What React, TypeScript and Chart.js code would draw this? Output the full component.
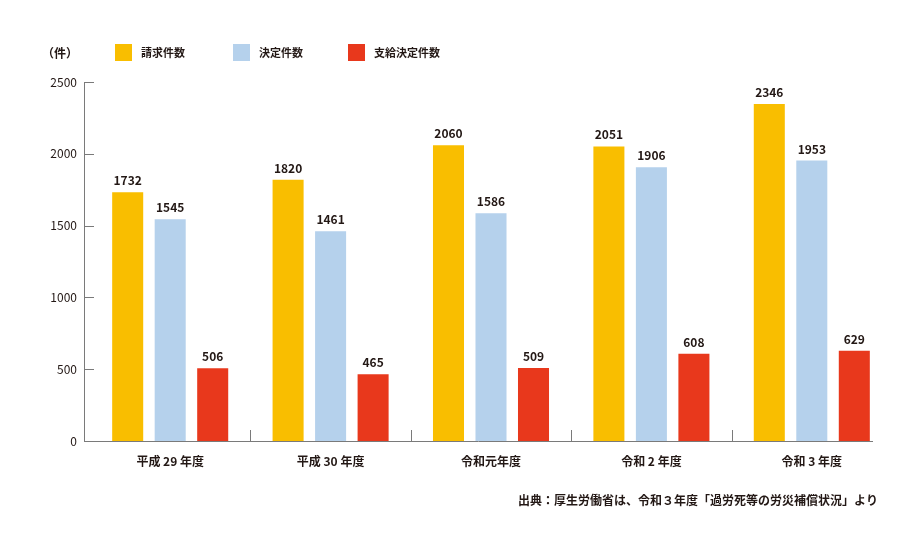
import React, { useEffect, useRef } from 'react';
import { Chart, registerables } from 'chart.js';

Chart.register(...registerables);

// data
const categories = ['平成 29 年度', '平成 30 年度', '令和元年度', '令和 2 年度', '令和 3 年度'];
const seriesNames = ['請求件数', '決定件数', '支給決定件数'];
const seriesColors = ['#F9BE00', '#B5D1EC', '#E8381C'];
const claims = [1732, 1820, 2060, 2051, 2346];
const decisions = [1545, 1461, 1586, 1906, 1953];
const approvals = [506, 465, 509, 608, 629];
const yTicks = [0, 500, 1000, 1500, 2000, 2500];
const unitLabel = '（件）';
const sourceNote = '出典：厚生労働省は、令和３年度「過労死等の労災補償状況」より';

const FONT = '"Noto Sans CJK JP", "Noto Sans", sans-serif';
const TEXT = '#231815';
const AXIS = '#7a7a7a';

const decorPlugin = {
  id: 'decor',
  afterDatasetsDraw(chart: any) {
    const { ctx, chartArea, scales } = chart;
    const x = scales.x;
    const y = scales.y;
    const axisX = chartArea.left - 6;
    const base = y.getPixelForValue(0);

    ctx.save();
    ctx.strokeStyle = AXIS;
    ctx.lineWidth = 1;
    ctx.beginPath();
    // y axis + inner ticks
    ctx.moveTo(axisX + 0.5, y.getPixelForValue(yTicks[yTicks.length - 1]));
    ctx.lineTo(axisX + 0.5, base);
    yTicks.forEach((v) => {
      const py = Math.round(y.getPixelForValue(v)) + 0.5;
      ctx.moveTo(axisX, py);
      ctx.lineTo(axisX + 10, py);
    });
    // x axis
    ctx.moveTo(axisX, Math.round(base) + 0.5);
    ctx.lineTo(chartArea.right - 19, Math.round(base) + 0.5);
    // category dividers
    for (let i = 0; i < categories.length - 1; i++) {
      const px = Math.round((x.getPixelForValue(i) + x.getPixelForValue(i + 1)) / 2) + 0.5;
      ctx.moveTo(px, base - 11);
      ctx.lineTo(px, base);
    }
    ctx.stroke();

    // value labels
    ctx.fillStyle = TEXT;
    ctx.font = `bold 12px ${FONT}`;
    ctx.textAlign = 'center';
    ctx.textBaseline = 'alphabetic';
    chart.data.datasets.forEach((ds: any, di: number) => {
      const meta = chart.getDatasetMeta(di);
      meta.data.forEach((el: any, i: number) => {
        ctx.fillText(String(ds.data[i]), el.x, el.y - 7);
      });
    });
    ctx.restore();
  },
  afterDraw(chart: any) {
    const { ctx } = chart;
    ctx.save();
    ctx.fillStyle = TEXT;
    ctx.textBaseline = 'middle';
    ctx.textAlign = 'left';
    ctx.font = `bold 12px ${FONT}`;
    ctx.fillText(unitLabel, 42, 53);

    ctx.font = `bold 11px ${FONT}`;
    const boxX = [115, 233, 348];
    chart.data.datasets.forEach((ds: any, i: number) => {
      ctx.fillStyle = ds.backgroundColor;
      ctx.fillRect(boxX[i], 44, 17, 17);
      ctx.fillStyle = TEXT;
      ctx.fillText(ds.label, boxX[i] + 26, 53);
    });

    ctx.textAlign = 'right';
    ctx.font = `bold 12px ${FONT}`;
    ctx.fillText(sourceNote, 878, 500);
    ctx.restore();
  },
};

export default function App() {
  const canvasRef = useRef<HTMLCanvasElement>(null);
  const chartRef = useRef<Chart | null>(null);

  useEffect(() => {
    if (!canvasRef.current) return;
    if (chartRef.current) chartRef.current.destroy();
    const ctx = canvasRef.current.getContext('2d');
    if (!ctx) return;

    const values = [claims, decisions, approvals];
    chartRef.current = new Chart(ctx, {
      type: 'bar',
      data: {
        labels: categories,
        datasets: values.map((d, i) => ({
          label: seriesNames[i],
          data: d,
          backgroundColor: seriesColors[i],
          borderWidth: 0,
          categoryPercentage: 0.795,
          barPercentage: 0.73,
        })),
      },
      options: {
        responsive: false,
        maintainAspectRatio: false,
        animation: false,
        layout: { padding: { left: 8, right: 28, top: 82, bottom: 0 } },
        plugins: {
          legend: { display: false },
          tooltip: { enabled: false },
        },
        scales: {
          x: {
            grid: { display: false, drawTicks: false },
            border: { display: false },
            ticks: {
              padding: 13,
              color: TEXT,
              font: { family: FONT, size: 12, weight: 'bold' },
              maxRotation: 0,
            },
            afterFit: (scale: any) => {
              scale.height = 104;
            },
          },
          y: {
            min: 0,
            max: 2500,
            grid: { display: false, drawTicks: false },
            border: { display: false },
            afterBuildTicks: (scale: any) => {
              scale.ticks = yTicks.map((v) => ({ value: v }));
            },
            ticks: {
              padding: 13,
              color: TEXT,
              font: { family: FONT, size: 12 },
              callback: (v: any) => String(v),
            },
            afterFit: (scale: any) => {
              scale.width = 82;
            },
          },
        },
      },
      plugins: [decorPlugin],
    });

    return () => {
      if (chartRef.current) {
        chartRef.current.destroy();
        chartRef.current = null;
      }
    };
  }, []);

  return (
    <div style={{ position: 'fixed', left: 0, top: 0, width: 920, height: 545, background: '#fff' }}>
      <canvas ref={canvasRef} width={920} height={545} style={{ width: 920, height: 545 }} />
    </div>
  );
}
